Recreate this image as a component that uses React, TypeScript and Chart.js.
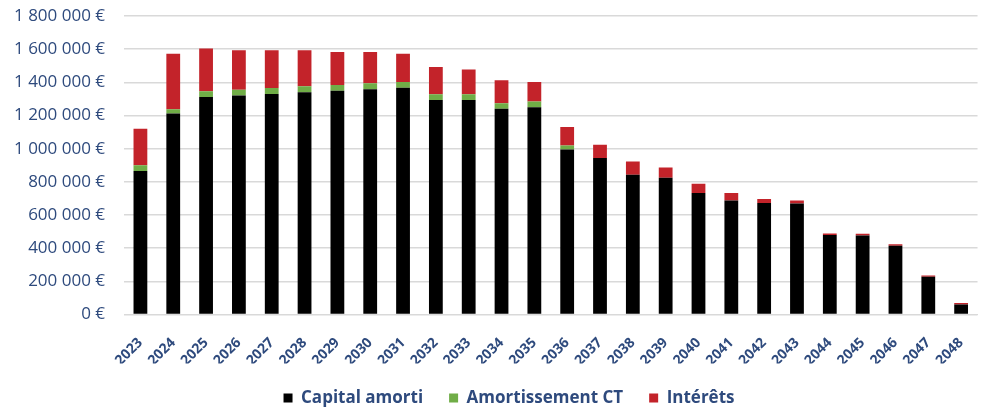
import React, { useEffect, useRef } from "react";
import { Chart, registerables } from "chart.js";

Chart.register(...registerables);

const years = [
  "2023", "2024", "2025", "2026", "2027", "2028", "2029", "2030", "2031", "2032",
  "2033", "2034", "2035", "2036", "2037", "2038", "2039", "2040", "2041", "2042",
  "2043", "2044", "2045", "2046", "2047", "2048",
];

const capitalAmorti = [
  865000, 1212000, 1312000, 1320000, 1330000, 1340000, 1350000, 1358000, 1368000, 1294000,
  1294000, 1240000, 1250000, 995000, 943000, 842000, 824000, 732000, 688000, 672000,
  670000, 479000, 477000, 414000, 227000, 61000,
];

const amortissementCT = [
  35000, 26000, 34000, 36000, 36000, 36000, 34000, 36000, 34000, 34000,
  34000, 34000, 34000, 24000, 0, 0, 0, 0, 0, 0,
  0, 0, 0, 0, 0, 0,
];

const interets = [
  220000, 335000, 258000, 237000, 227000, 217000, 199000, 189000, 171000, 165000,
  149000, 139000, 118000, 112000, 80000, 80000, 63000, 56000, 45000, 24000,
  18000, 10000, 10000, 10000, 8000, 9000,
];

const seriesNames = ["Capital amorti", "Amortissement CT", "Intérêts"];
const yMax = 1800000;
const yStep = 200000;

const FONT = "'Open Sans', Lato, sans-serif";
const TEXT = "#2E4A7D";
const GRID = "#D9D9D9";

function fmtEuro(v: number): string {
  const s = Math.round(v).toString().replace(/\B(?=(\d{3})+(?!\d))/g, " ");
  return s + " €";
}

const legendShift = {
  id: "legendShift",
  afterLayout(chart: any) {
    const l = chart.legend;
    if (l) l.left += 33;
  },
};

export default function App() {
  const ref = useRef<HTMLCanvasElement | null>(null);

  useEffect(() => {
    if (!ref.current) return;
    const chart = new Chart(ref.current, {
      type: "bar",
      data: {
        labels: years,
        datasets: [
          { label: seriesNames[0], data: capitalAmorti, backgroundColor: "#000000", stack: "s" },
          { label: seriesNames[1], data: amortissementCT, backgroundColor: "#70AD47", stack: "s" },
          { label: seriesNames[2], data: interets, backgroundColor: "#C3232A", stack: "s" },
        ],
      },
      plugins: [legendShift],
      options: {
        responsive: false,
        maintainAspectRatio: false,
        animation: false,
        layout: { padding: { top: 0, left: 0, right: 0, bottom: -9.5 } },
        datasets: { bar: { barPercentage: 0.42, categoryPercentage: 1 } } as any,
        plugins: {
          legend: {
            position: "bottom",
            labels: {
              boxWidth: 9,
              boxHeight: 9,
              padding: 26,
              color: TEXT,
              font: { family: FONT, size: 17, weight: "bold" },
            },
          },
          tooltip: { enabled: false },
        },
        scales: {
          x: {
            stacked: true,
            grid: { display: false },
            border: { color: GRID, width: 1 },
            ticks: {
              minRotation: 45,
              maxRotation: 45,
              padding: 12,
              color: TEXT,
              font: { family: FONT, size: 14, weight: "bold" },
            },
            afterFit: (s: any) => {
              s.height = 49;
            },
          },
          y: {
            stacked: true,
            min: 0,
            max: yMax,
            border: { display: false },
            grid: { color: GRID, lineWidth: 1.5, drawTicks: false },
            ticks: {
              stepSize: yStep,
              padding: 19,
              color: TEXT,
              font: { family: FONT, size: 17 },
              callback: (v: any) => fmtEuro(Number(v)),
            },
            afterFit: (s: any) => {
              s.width = 124;
              s.paddingTop = 16;
              s.paddingBottom = 0;
            },
          },
        },
      },
    });
    return () => chart.destroy();
  }, []);

  return (
    <div style={{ position: "absolute", left: 0, top: 0, width: 985, height: 407, background: "#fff" }}>
      <canvas ref={ref} width={985} height={407} />
    </div>
  );
}
